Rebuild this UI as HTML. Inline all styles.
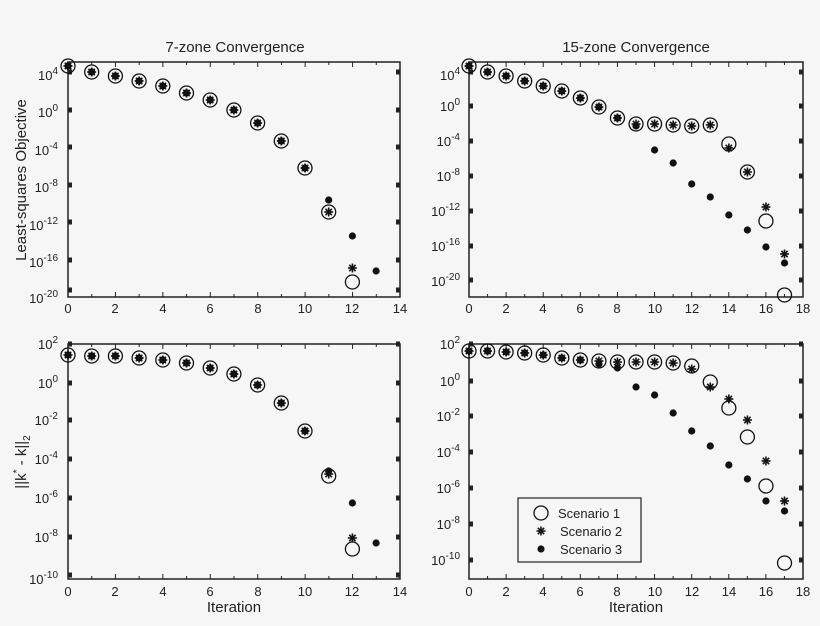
<!DOCTYPE html>
<html><head><meta charset="utf-8"><style>
html,body{margin:0;padding:0;background:#f6f6f6;}
svg{display:block;font-family:"Liberation Sans",Arial,sans-serif;}
text{fill:#222;}
</style></head><body>
<svg id="s" width="820" height="626" viewBox="0 0 820 626" xmlns="http://www.w3.org/2000/svg">
<rect width="820" height="626" fill="#f6f6f6"/>
<g font-size="15" text-anchor="middle">
<text x="235" y="52">7-zone Convergence</text>
<text x="636" y="52">15-zone Convergence</text>
<text x="234" y="612">Iteration</text>
<text x="636" y="612">Iteration</text>
<text transform="translate(26,180) rotate(-90)">Least-squares Objective</text>
<text transform="translate(26,462) rotate(-90)">||k<tspan dy="-6" font-size="10">*</tspan><tspan dy="6"> - k||</tspan><tspan dy="4" font-size="10">2</tspan></text>
</g>
<g font-size="13" text-anchor="middle">
<text x="68" y="313">0</text><text x="115" y="313">2</text><text x="163" y="313">4</text><text x="210" y="313">6</text><text x="258" y="313">8</text><text x="305" y="313">10</text><text x="352" y="313">12</text><text x="400" y="313">14</text>
<text x="469" y="313">0</text><text x="506" y="313">2</text><text x="543" y="313">4</text><text x="580" y="313">6</text><text x="617" y="313">8</text><text x="655" y="313">10</text><text x="692" y="313">12</text><text x="729" y="313">14</text><text x="766" y="313">16</text><text x="803" y="313">18</text>
<text x="68" y="596">0</text><text x="115" y="596">2</text><text x="163" y="596">4</text><text x="210" y="596">6</text><text x="258" y="596">8</text><text x="305" y="596">10</text><text x="352" y="596">12</text><text x="400" y="596">14</text>
<text x="469" y="596">0</text><text x="506" y="596">2</text><text x="543" y="596">4</text><text x="580" y="596">6</text><text x="617" y="596">8</text><text x="655" y="596">10</text><text x="692" y="596">12</text><text x="729" y="596">14</text><text x="766" y="596">16</text><text x="803" y="596">18</text>
</g>
<g font-size="13" text-anchor="end">
<text x="58" y="80">10<tspan dy="-6" font-size="10">4</tspan></text>
<text x="58" y="117">10<tspan dy="-6" font-size="10">0</tspan></text>
<text x="58" y="155">10<tspan dy="-6" font-size="10">-4</tspan></text>
<text x="58" y="192">10<tspan dy="-6" font-size="10">-8</tspan></text>
<text x="58" y="230">10<tspan dy="-6" font-size="10">-12</tspan></text>
<text x="58" y="267">10<tspan dy="-6" font-size="10">-16</tspan></text>
<text x="58" y="303">10<tspan dy="-6" font-size="10">-20</tspan></text>
<text x="460" y="80">10<tspan dy="-6" font-size="10">4</tspan></text>
<text x="460" y="111">10<tspan dy="-6" font-size="10">0</tspan></text>
<text x="460" y="146">10<tspan dy="-6" font-size="10">-4</tspan></text>
<text x="460" y="181">10<tspan dy="-6" font-size="10">-8</tspan></text>
<text x="460" y="216">10<tspan dy="-6" font-size="10">-12</tspan></text>
<text x="460" y="251">10<tspan dy="-6" font-size="10">-16</tspan></text>
<text x="460" y="286">10<tspan dy="-6" font-size="10">-20</tspan></text>
<text x="58" y="349">10<tspan dy="-6" font-size="10">2</tspan></text>
<text x="58" y="388">10<tspan dy="-6" font-size="10">0</tspan></text>
<text x="58" y="425">10<tspan dy="-6" font-size="10">-2</tspan></text>
<text x="58" y="464">10<tspan dy="-6" font-size="10">-4</tspan></text>
<text x="58" y="503">10<tspan dy="-6" font-size="10">-6</tspan></text>
<text x="58" y="542">10<tspan dy="-6" font-size="10">-8</tspan></text>
<text x="58" y="584">10<tspan dy="-6" font-size="10">-10</tspan></text>
<text x="460" y="349">10<tspan dy="-6" font-size="10">2</tspan></text>
<text x="460" y="386">10<tspan dy="-6" font-size="10">0</tspan></text>
<text x="460" y="421">10<tspan dy="-6" font-size="10">-2</tspan></text>
<text x="460" y="457">10<tspan dy="-6" font-size="10">-4</tspan></text>
<text x="460" y="493">10<tspan dy="-6" font-size="10">-6</tspan></text>
<text x="460" y="529">10<tspan dy="-6" font-size="10">-8</tspan></text>
<text x="460" y="565">10<tspan dy="-6" font-size="10">-10</tspan></text>
</g>
<g fill="none" stroke="#222" stroke-width="1.5">
<rect x="68" y="62" width="332" height="235"/>
<rect x="469" y="62" width="334" height="235"/>
<rect x="68" y="344" width="332" height="235"/>
<rect x="469" y="344" width="334" height="235"/>
<rect x="518" y="498" width="123" height="64" stroke-width="1.2"/>
</g>
<g font-size="13">
<text x="558" y="518">Scenario 1</text>
<text x="560" y="536">Scenario 2</text>
<text x="560" y="554">Scenario 3</text>
</g>
<g id="m"></g>
</svg>
<script>
var g=document.getElementById('m'),h='';
function C(x,y){h+='<circle cx="'+x+'" cy="'+y+'" r="7" fill="none" stroke="#111" stroke-width="1.3"/>';}
function S(x,y){var r=4.5;for(var a=0;a<4;a++){var t=a*Math.PI/4;h+='<line x1="'+(x-r*Math.cos(t))+'" y1="'+(y-r*Math.sin(t))+'" x2="'+(x+r*Math.cos(t))+'" y2="'+(y+r*Math.sin(t))+'" stroke="#111" stroke-width="1.6"/>';}}
function D(x,y){h+='<circle cx="'+x+'" cy="'+y+'" r="3.6" fill="#111"/>';}
function ticks(x0,x1,y0,y1,n,ys){var dx=(x1-x0)/n;for(var i=0;i<=n;i++){var x=x0+i*dx;h+='<line x1="'+x+'" y1="'+y1+'" x2="'+x+'" y2="'+(y1-(i%2?3:5))+'" stroke="#222"/>';h+='<line x1="'+x+'" y1="'+y0+'" x2="'+x+'" y2="'+(y0+(i%2?3:5))+'" stroke="#222"/>';}
ys.forEach(function(y){h+='<rect x="'+x0+'" y="'+(y-2.5)+'" width="4" height="5" fill="#222"/><rect x="'+(x1-4)+'" y="'+(y-2.5)+'" width="4" height="5" fill="#222"/>';});}
ticks(68,400,62,297,14,[72,110,147,185,222,260,290]);
ticks(469,803,62,297,18,[72,106,141,176,211,246,280]);
ticks(68,400,344,579,14,[344,383,420,459,498,537,575]);
ticks(469,803,344,579,18,[344,381,416,452,488,524,560]);
function P(x0,dx,list){list.forEach(function(p,i){var x=x0+i*dx;if(p.length==1){C(x,p[0]);S(x,p[0]);D(x,p[0]);}else{if(p[0]!=null)C(x,p[0]);if(p[1]!=null)S(x,p[1]);if(p[2]!=null)D(x,p[2]);}});}
P(68,23.7,[[66],[72],[76],[81],[86],[93],[100],[110],[123],[141],[168],[212,212,200],[282,268,236],[null,null,271]]);
P(469,18.56,[[66],[72],[76],[81],[86],[91],[98],[107],[118],[124,124,126],[124,124,150],[125,125,163],[126,126,184],[125,125,197],[144,148,215],[172,172,230],[221,207,247],[295,254,263]]);
P(68,23.7,[[355],[356],[356],[358],[360],[363],[368],[374],[385],[403],[431],[476,474,471],[549,538,503],[null,null,543]]);
P(469,18.56,[[351],[351],[352],[353],[355],[358],[360],[361,361,364],[362,362,368],[362,362,387],[362,362,395],[363,363,413],[366,369,431],[382,387,446],[408,399,465],[437,420,479],[486,461,501],[563,501,511]]);
C(541,513);S(541,531);D(541,549);
g.innerHTML=h;
</script>
</body></html>
